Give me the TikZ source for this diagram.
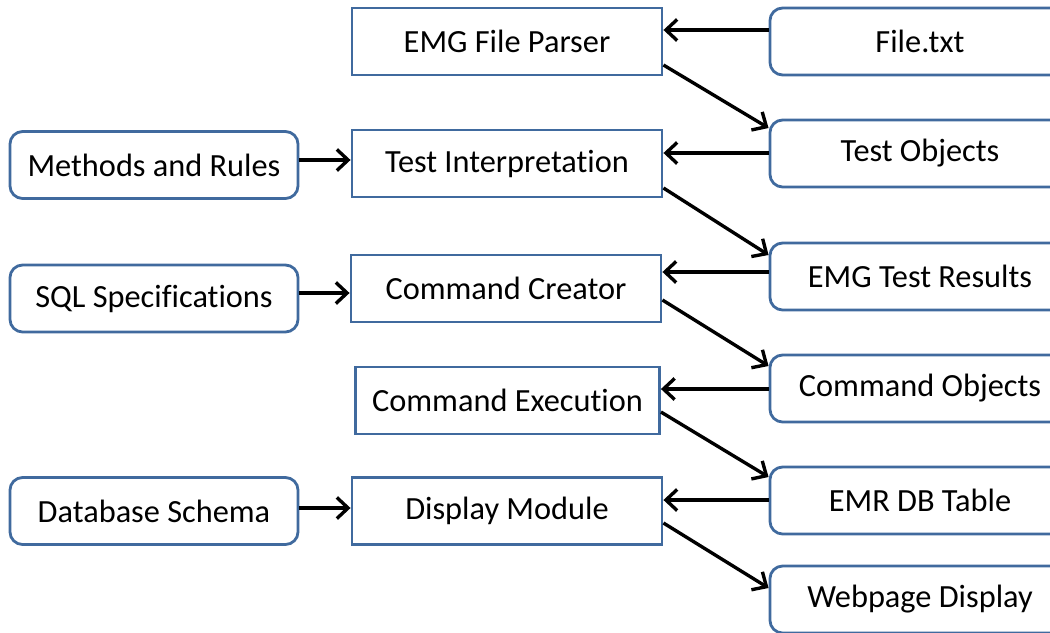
\documentclass[tikz,border=0pt]{standalone}
\usepackage{fontspec}
\setmainfont[Ligatures=NoCommon]{Carlito}
\usetikzlibrary{arrows.meta}

\definecolor{boxblue}{RGB}{64,106,158}

\tikzset{
  midbox/.style={draw=boxblue, line width=2pt, fill=white, inner sep=0pt,
    minimum width=7.75cm, minimum height=1.675cm},
  sidebox/.style={midbox, rounded corners=9pt, minimum width=7.2cm},
  rightbox/.style={sidebox, minimum width=7.5cm},
  flow/.style={-{Straight Barb[length=8pt,width=15pt]}, line width=2.4pt},
}

\begin{document}
\begin{tikzpicture}[x=0.025cm, y=-0.025cm, font=\fontsize{23}{27}\selectfont]

\useasboundingbox (0,0) rectangle (1050,632);
\clip (0,0) rectangle (1050,632);

% middle column
\node[midbox] (parser)  at (507,41.5)  {EMG File Parser};
\node[midbox] (interp)  at (507,163.5) {Test Interpretation};
\node[midbox] (creator) at (506,288.5) {Command Creator};
\node[midbox, minimum width=7.6cm] (exec) at (507.5,400.5) {Command Execution};
\node[midbox] (display) at (507,511)   {Display Module};

% left column
\node[sidebox] (methods) at (154,165)   {Methods and Rules};
\node[sidebox] (sql)     at (154,298.5) {SQL Specifications};
\node[sidebox] (schema)  at (154,511)   {Database Schema};

% right column
\node[rightbox] (file)    at (920,41.5)  {File.txt};
\node[rightbox] (objects) at (920,153.5) {Test Objects};
\node[rightbox] (results) at (920,276.5) {EMG Test Results};
\node[rightbox] (cmdobj)  at (920,388.5) {Command Objects};
\node[rightbox] (emr)     at (920,500.5) {EMR DB Table};
\node[rightbox] (web)     at (920,599.5) {Webpage Display};

\draw[flow] (file.west |- 0,30) -- (parser.east |- 0,30);
\draw[flow] (parser.east |- 0,65) -- (objects.west |- 0,128);
\draw[flow] (objects.west |- 0,153) -- (interp.east |- 0,153);
\draw[flow] (methods.east |- 0,160) -- (interp.west |- 0,160);
\draw[flow] (interp.east |- 0,188) -- (results.west |- 0,255);
\draw[flow] (results.west |- 0,272) -- (creator.east |- 0,272);
\draw[flow] (sql.east |- 0,293) -- (creator.west |- 0,293);
\draw[flow] (creator.east |- 0,300) -- (cmdobj.west |- 0,366);
\draw[flow] (cmdobj.west |- 0,389) -- (exec.east |- 0,389);
\draw[flow] (exec.east |- 0,412) -- (emr.west |- 0,477);
\draw[flow] (emr.west |- 0,500) -- (display.east |- 0,500);
\draw[flow] (schema.east |- 0,508) -- (display.west |- 0,508);
\draw[flow] (display.east |- 0,523) -- (web.west |- 0,588);

\end{tikzpicture}
\end{document}
